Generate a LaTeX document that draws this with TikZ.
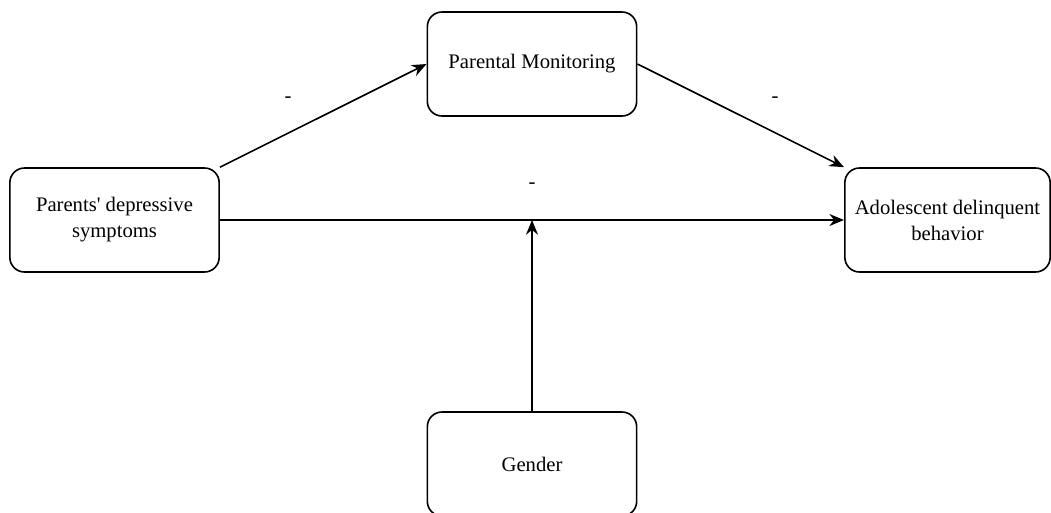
\documentclass[tikz,border=0pt]{standalone}
\usepackage{fontspec}
\setmainfont{Liberation Serif}
\usetikzlibrary{arrows.meta,positioning}

\begin{document}
\begin{tikzpicture}[
  x=0.75pt,y=-0.75pt,
  box/.style={rectangle,draw,line width=1.2pt,rounded corners=11pt,
              minimum width=157pt,minimum height=78pt,align=center,
              font=\fontsize{15.5}{19.5}\selectfont},
  arr/.style={-{Stealth[length=11pt,width=9pt]},line width=1.2pt},
  sign/.style={font=\fontsize{15.5}{19.5}\selectfont},
]
  \useasboundingbox (0,0) rectangle (1051,512);

  % Boxes
  \node[box] (pds) at (114.5,220) {Parents\textquotesingle{} depressive\\symptoms};
  \node[box] (pm)  at (532,64)    {Parental Monitoring};
  \node[box,minimum width=154pt] (adb) at (947.5,220) {Adolescent delinquent\\behavior};
  \node[box] (gen) at (532,464)   {Gender};

  % Paths
  \draw[arr] (pds.north east) -- (pm.west);
  \draw[arr] (pm.east) -- (adb.north west);
  \draw[arr] (pds.east) -- (adb.west);
  \coordinate (mod) at (532,220);
  \draw[arr] (gen.north) -- (mod);

  % Signs
  \node[sign] (s1) at (288,100) {-};
  \node[sign] (s2) at (775,100) {-};
  \node[sign] (s3) at (532,186) {-};
\end{tikzpicture}
\end{document}
